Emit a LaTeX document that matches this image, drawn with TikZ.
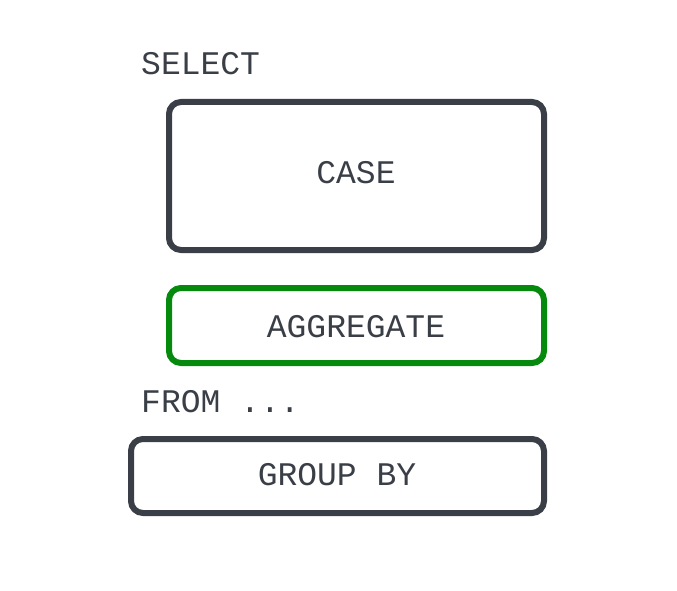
\documentclass[tikz,border=0pt]{standalone}
\usepackage{fontspec}
\setmonofont{Liberation Mono}
\begin{document}
\begin{tikzpicture}[x=1pt,y=-1pt,
  lbl/.style={font=\ttfamily\fontsize{33}{33}\selectfont, text=txtgray, inner sep=0pt},
  boxdark/.style={draw=boxgray, line width=6pt, rounded corners=12pt, inner sep=0pt},
  boxgreen/.style={draw=boxgreen, line width=6pt, rounded corners=12pt, inner sep=0pt}]
\definecolor{txtgray}{HTML}{3A3F47}
\definecolor{boxgray}{HTML}{3A3F47}
\definecolor{boxgreen}{HTML}{058A0E}
\useasboundingbox (0,0) rectangle (677,591);
\node[boxdark, minimum width=375pt, minimum height=148pt] (casebox) at (356.5,176) {};
\node[boxgreen, minimum width=375pt, minimum height=75pt] (aggbox) at (356.5,325.5) {};
\node[boxdark, minimum width=413pt, minimum height=74pt] (grpbox) at (337.5,476) {};
\node[lbl, anchor=base west] (select) at (141,75) {SELECT};
\node[lbl, anchor=base west] (from) at (141,412) {FROM ...};
\node[lbl, anchor=base] (case) at (356,183) {CASE};
\node[lbl, anchor=base] (agg) at (356,337) {AGGREGATE};
\node[lbl, anchor=base] (grp) at (337,485) {GROUP BY};
\end{tikzpicture}
\end{document}
